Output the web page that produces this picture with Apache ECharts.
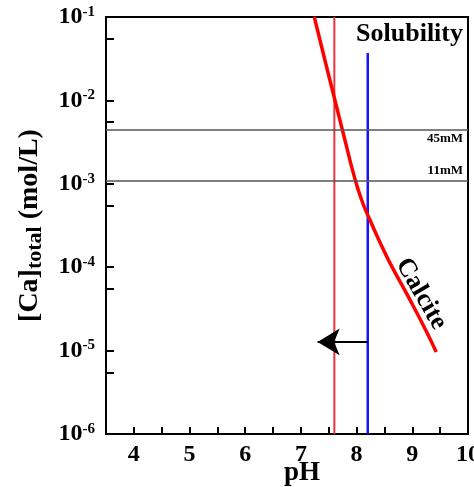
<!DOCTYPE html>
<html>
<head>
<meta charset="utf-8">
<script src="https://cdn.jsdelivr.net/npm/echarts@6/dist/echarts.min.js"></script>
<style>
  html, body { margin: 0; padding: 0; background: #fff; }
  #chart { width: 474px; height: 487px; }
</style>
</head>
<body>
<div id="chart"></div>
<script>
// calcite solubility curve
const calcitePH = [7.24, 7.43, 7.61, 7.79, 7.95, 8.09, 8.24, 8.40, 8.60, 8.93, 9.24, 9.43]
const calciteCa = [0.1, 3.05e-2, 1.01e-2, 3.35e-3, 1.28e-3, 6.4e-4, 3.68e-4, 2.12e-4, 1.12e-4, 4.4e-5, 1.77e-5, 9.6e-6]

// reference levels
const levelNames = ['45mM', '11mM']
const levelValues = [4.5e-3, 1.1e-3]
const levelPH = [3.5, 10]

// vertical pH lines
const redLinePH = 7.6
const redLineCa = [1e-6, 0.1]
const blueLinePH = 8.2
const blueLineCa = [1e-6, 0.037]

// arrow from blue line towards red line
const arrowFrom = [8.2, 1.27e-5]
const arrowTo = [7.3, 1.27e-5]

const serif = "'Liberation Serif', 'DejaVu Serif', serif"

var chartDom = document.getElementById('chart')
var myChart = echarts.init(chartDom)
var option

option = {
  animation: false,
  title: {
    text: 'Solubility',
    right: 6,
    top: 16,
    textStyle: { fontFamily: serif, fontWeight: 'bold', fontSize: 26, color: '#000' }
  },
  grid: {
    left: 106, top: 17, right: 6, bottom: 53,
    outerBoundsMode: 'none',
    containLabel: false,
    show: true, borderColor: '#000', borderWidth: 2, backgroundColor: 'transparent'
  },
  xAxis: {
    type: 'value',
    min: 3.5,
    max: 10,
    interval: 0.5,
    name: 'pH',
    nameLocation: 'middle',
    nameGap: 26,
    nameMoveOverlap: false,
    nameTextStyle: { fontFamily: serif, fontWeight: 'bold', fontSize: 27, color: '#000', padding: [0, 0, 0, 30] },
    axisLine: { lineStyle: { color: '#000', width: 2 } },
    axisTick: { inside: true, length: 7, lineStyle: { color: '#000', width: 2 } },
    axisLabel: {
      showMaxLabel: true,
      hideOverlap: false,
      margin: 9,
      fontFamily: serif, fontWeight: 'bold', fontSize: 24, color: '#000',
      formatter: v => Number.isInteger(v) ? String(v) : ''
    },
    splitLine: { show: false }
  },
  yAxis: {
    type: 'log',
    logBase: 10,
    min: 1e-6,
    max: 0.1,
    name: '{m|[Ca]}{s|total}{m| (mol/L)}',
    nameLocation: 'middle',
    nameRotate: 90,
    nameGap: 60,
    nameMoveOverlap: false,
    nameTextStyle: {
      rich: {
        m: { fontFamily: serif, fontWeight: 'bold', fontSize: 28, color: '#000' },
        s: { fontFamily: serif, fontWeight: 'bold', fontSize: 22, color: '#000', padding: [10, 0, 0, 0] }
      }
    },
    axisLine: { lineStyle: { color: '#000', width: 2 } },
    axisTick: { inside: true, length: 8, lineStyle: { color: '#000', width: 2 } },
    minorTick: { show: true, splitNumber: 2, length: 8, lineStyle: { color: '#000', width: 2 } },
    axisLabel: {
      margin: 11,
      formatter: function (v) {
        var e = Math.round(Math.log10(v))
        return '{b|10}{s|' + e + '}'
      },
      rich: {
        b: { fontFamily: serif, fontWeight: 'bold', fontSize: 24, color: '#000' },
        s: { fontFamily: serif, fontWeight: 'bold', fontSize: 15, color: '#000', padding: [0, 0, 10, 0] }
      }
    },
    splitLine: { show: false },
    minorSplitLine: { show: false }
  },
  series: [
    {
      // gray reference levels
      type: 'scatter',
      data: levelValues.map(v => [10, v]),
      symbolSize: 0,
      silent: true,
      markLine: {
        silent: true,
        symbol: 'none',
        animation: false,
        lineStyle: { color: '#555', width: 1.5, type: 'solid' },
        data: levelValues.map((v, i) => [
          {
            coord: [levelPH[0], v],
            label: {
              show: true,
              formatter: levelNames[i],
              position: i === 0 ? 'insideEndBottom' : 'insideEndTop',
              distance: [5, 3],
              fontFamily: serif, fontWeight: 'bold', fontSize: 13, color: '#000'
            }
          },
          { coord: [levelPH[1], v] }
        ])
      }
    },
    {
      type: 'line',
      data: redLineCa.map(c => [redLinePH, c]),
      symbol: 'none',
      lineStyle: { color: '#e8333d', width: 2 },
      silent: true
    },
    {
      type: 'line',
      data: blueLineCa.map(c => [blueLinePH, c]),
      symbol: 'none',
      lineStyle: { color: '#1414ff', width: 2.5 },
      silent: true
    },
    {
      type: 'line',
      data: calcitePH.map((p, i) => [p, calciteCa[i]]),
      smooth: true,
      symbol: 'none',
      lineStyle: { color: '#ff0000', width: 3.5 },
      silent: true,
      markLine: {
        silent: true,
        animation: false,
        lineStyle: { color: '#000', width: 2, type: 'solid' },
        label: { show: false },
        symbolSize: [20, 22],
        data: [[
          { coord: arrowFrom, symbol: 'none' },
          { coord: arrowTo, symbol: 'arrow' }
        ]]
      }
    }
  ],
  graphic: [
    {
      type: 'text',
      x: 421,
      y: 294,
      rotation: -Math.PI / 3,
      style: {
        text: 'Calcite',
        fontFamily: serif, fontWeight: 'bold', fontSize: 26, fill: '#000',
        align: 'center', verticalAlign: 'middle'
      }
    }
  ]
}

option && myChart.setOption(option)
</script>
</body>
</html>
